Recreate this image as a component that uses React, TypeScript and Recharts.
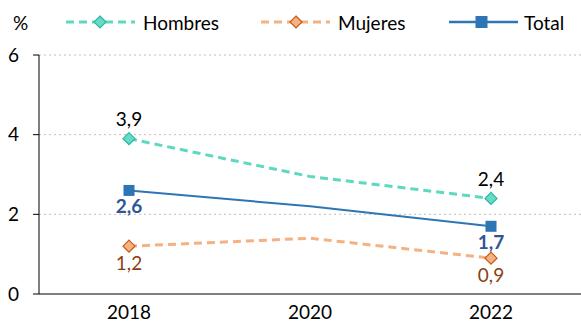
import React from 'react';
import { LineChart, Line, XAxis, YAxis, CartesianGrid, LabelList } from 'recharts';

const years = ['2018', '2020', '2022'];
const hombres = [3.9, 2.95, 2.4];
const mujeres = [1.2, 1.4, 0.9];
const total = [2.6, 2.2, 1.7];
const yTicks = [0, 2, 4, 6];

const data = years.map((y, i) => ({ year: y, hombres: hombres[i], mujeres: mujeres[i], total: total[i] }));

const FONT = 'Lato, "Liberation Sans", sans-serif';
const FS = 19;
const fmt = (v: number) => v.toFixed(1).replace('.', ',');

const Diamond = (cx: number, cy: number, fill: string, stroke: string, r = 6) => (
  <path d={`M${cx},${cy - r}L${cx + r},${cy}L${cx},${cy + r}L${cx - r},${cy}Z`} fill={fill} stroke={stroke} strokeWidth={1.2} />
);

const makeDot = (kind: 'h' | 'm' | 't') => (props: any) => {
  const { cx, cy, index } = props;
  if (index === 1 || cx == null) return <g key={`d${kind}${index}`} />;
  if (kind === 'h') return <g key={`d${kind}${index}`}>{Diamond(cx, cy, '#66dcc6', '#2fb5a0')}</g>;
  if (kind === 'm') return <g key={`d${kind}${index}`}>{Diamond(cx, cy, '#f4b183', '#c55a11')}</g>;
  return <rect key={`d${kind}${index}`} x={cx - 5.5} y={cy - 5.5} width={11} height={11} fill="#2e75b6" />;
};

const makeLabel = (dy: number, color: string, bold: boolean) => (props: any) => {
  const { x, y, value, index } = props;
  if (index === 1) return null;
  return (
    <text x={x} y={y + dy} textAnchor="middle" dominantBaseline="central" fill={color}
      fontSize={FS} fontFamily={FONT} fontWeight={bold ? 700 : 400}>
      {fmt(value)}
    </text>
  );
};

const LY = 22;
const LegendSvg = () => (
  <svg width={581} height={44} style={{ position: 'absolute', left: 0, top: 0 }}>
    <text x={13} y={LY} dominantBaseline="central" fontSize={FS} fontFamily={FONT} fill="#000">%</text>
    <line x1={66} x2={135} y1={LY} y2={LY} stroke="#5fd8c2" strokeWidth={3} strokeDasharray="8 5" />
    {Diamond(100, LY, '#66dcc6', '#2fb5a0', 6)}
    <text x={143} y={LY} dominantBaseline="central" fontSize={FS} fontFamily={FONT} fill="#000">Hombres</text>
    <line x1={261} x2={330} y1={LY} y2={LY} stroke="#f4b183" strokeWidth={3} strokeDasharray="8 5" />
    {Diamond(296, LY, '#f4b183', '#c55a11', 6)}
    <text x={338} y={LY} dominantBaseline="central" fontSize={FS} fontFamily={FONT} fill="#000">Mujeres</text>
    <line x1={449} x2={518} y1={LY} y2={LY} stroke="#2e75b6" strokeWidth={2.5} />
    <rect x={475.5} y={LY - 6} width={12} height={12} fill="#2e75b6" />
    <text x={524} y={LY} dominantBaseline="central" fontSize={FS} fontFamily={FONT} fill="#000">Total</text>
  </svg>
);

export default function App() {
  return (
    <div style={{ position: 'absolute', left: 0, top: 0, width: 581, height: 323, background: '#fff' }}>
      <LineChart width={581} height={323} data={data} margin={{ top: 55, right: 0, bottom: 0, left: 0 }}>
        <CartesianGrid vertical={false} horizontal stroke="#bfbfbf" strokeDasharray="2 3" horizontalValues={[2, 4, 6]} />
        <XAxis dataKey="year" height={29} padding={{ left: 90, right: 90 }} tickLine={false}
          axisLine={{ stroke: '#000', strokeWidth: 1 }} tickMargin={6}
          tick={{ fill: '#000', fontSize: FS, fontFamily: FONT }} />
        <YAxis width={39} domain={[0, 6]} ticks={yTicks} tickSize={6} tickMargin={14}
          axisLine={{ stroke: '#000', strokeWidth: 1 }} tickLine={{ stroke: '#000' }}
          tick={{ fill: '#000', fontSize: FS, fontFamily: FONT }} />
        <Line dataKey="hombres" stroke="#5fd8c2" strokeWidth={3} strokeDasharray="8 5" dot={makeDot('h')} activeDot={false} isAnimationActive={false}>
          <LabelList dataKey="hombres" content={makeLabel(-20, '#000', false)} />
        </Line>
        <Line dataKey="mujeres" stroke="#f4b183" strokeWidth={3} strokeDasharray="8 5" dot={makeDot('m')} activeDot={false} isAnimationActive={false}>
          <LabelList dataKey="mujeres" content={makeLabel(16, '#8a3f12', false)} />
        </Line>
        <Line dataKey="total" stroke="#2e75b6" strokeWidth={2} dot={makeDot('t')} activeDot={false} isAnimationActive={false}>
          <LabelList dataKey="total" content={makeLabel(15, '#2f5597', true)} />
        </Line>
      </LineChart>
      <LegendSvg />
    </div>
  );
}
